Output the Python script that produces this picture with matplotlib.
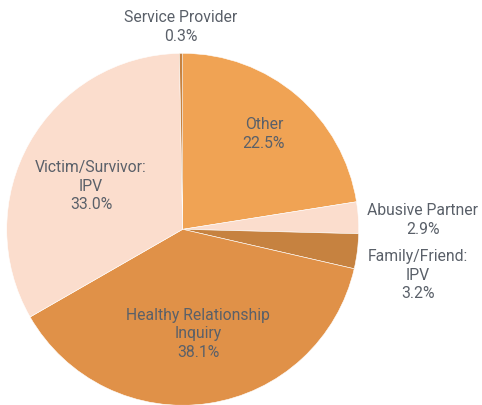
import numpy as np
import matplotlib
matplotlib.use("Agg")
import matplotlib.pyplot as plt

# data
labels = ["Other", "Abusive Partner", "Family/Friend:\nIPV",
          "Healthy Relationship\nInquiry", "Victim/Survivor:\nIPV", "Service Provider"]
shares = [22.5, 2.9, 3.2, 38.1, 33.0, 0.3]

colors = ["#F0A354", "#FBDDCD", "#C68240", "#E09148", "#FBDDCD", "#C68240"]
text_color = "#5A6069"

plt.rcParams['font.family'] = ['Roboto', 'DejaVu Sans']

fig = plt.figure(figsize=(4.82, 4.05), dpi=100)
R = 176
cx, cy = 182.7, 405 - 229.3
ax = fig.add_axes([(cx - R) / 482, (cy - R) / 405, 2 * R / 482, 2 * R / 405])

wedges, _ = ax.pie(shares, colors=colors, startangle=90, counterclock=False,
                   radius=1, wedgeprops=dict(edgecolor="white", linewidth=0.4))
ax.set_xlim(-1, 1)
ax.set_ylim(-1, 1)
ax.set_aspect("equal")
ax.axis("off")

# label placement: (distance from centre, ha, nudge) - nudge is degrees for
# inside labels, vertical offset for the side labels
place = [(0.71, "center", 0), (1.05, "left", -0.013), (1.05, "left", -0.135),
         (0.6, "center", 0), (0.575, "center", 4.3), (1.15, "center", 0)]

for w, lab, val, (d, ha, nudge) in zip(wedges, labels, shares, place):
    mid = np.deg2rad((w.theta1 + w.theta2) / 2)
    if ha == "left":
        x = d
        y = np.sin(mid) + nudge
    else:
        mid += np.deg2rad(nudge)
        x, y = d * np.cos(mid), d * np.sin(mid)
    ax.text(x, y, f"{lab}\n{val:.1f}%", ha=ha, va="center", multialignment="center",
            fontsize=11.3, color=text_color, linespacing=1.3)

fig.savefig("out.png", dpi=100)
